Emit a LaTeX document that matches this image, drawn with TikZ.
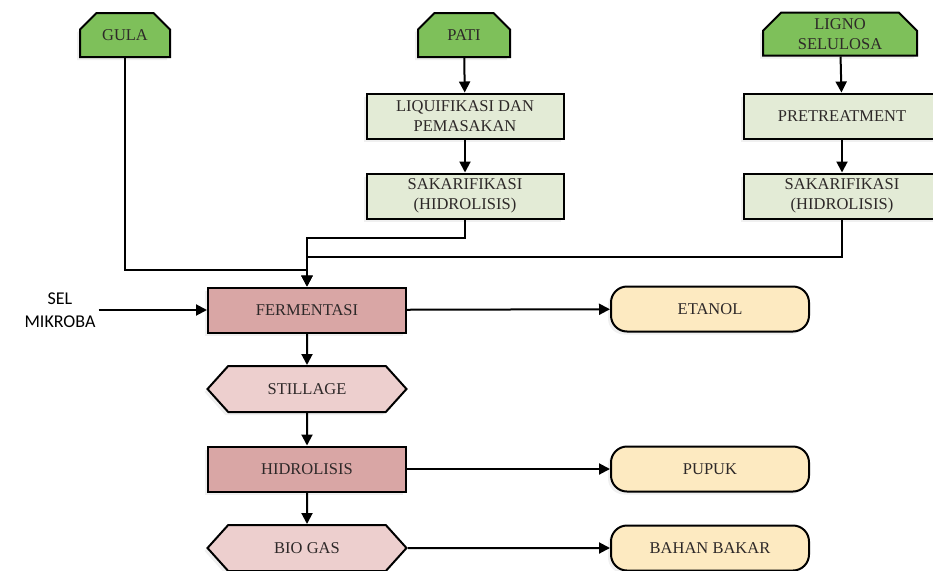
\documentclass[tikz,border=0pt]{standalone}
\usepackage{fontspec}
\setmainfont{Liberation Serif}
\newfontfamily\selfont{Carlito}
\usetikzlibrary{arrows.meta,shapes.misc,shapes.symbols,shadows}

\definecolor{bahan}{RGB}{126,192,90}
\definecolor{proses}{RGB}{227,235,214}
\definecolor{fermen}{RGB}{217,166,165}
\definecolor{sisa}{RGB}{237,207,206}
\definecolor{produk}{RGB}{253,234,193}
\definecolor{teks}{RGB}{45,40,40}

\tikzset{
    kotak/.style={draw=black, line width=2pt, text=teks, align=center,
        font=\fontsize{16.5}{19.5}\selectfont, inner sep=2pt,
        drop shadow={shadow xshift=-3pt, shadow yshift=-3pt, opacity=0.12}},
    sumber/.style={kotak, chamfered rectangle, fill=bahan,
        chamfered rectangle corners={north west, north east},
        chamfered rectangle sep=11pt, inner ysep=0pt},
    olah/.style={kotak, rectangle, fill=proses, minimum width=197pt, minimum height=45pt},
    reaktor/.style={kotak, rectangle, fill=fermen, minimum width=198pt, minimum height=45pt},
    limbah/.style={kotak, signal, signal to=west and east, signal pointer angle=96,
        fill=sisa, minimum width=199pt, minimum height=46pt},
    hasil/.style={kotak, rectangle, rounded corners=16pt, fill=produk,
        minimum width=198pt, minimum height=45pt},
    panah/.style={line width=2pt, -{Triangle[length=11pt,width=11pt]}},
    garis/.style={line width=2pt}
}

\begin{document}
\begin{tikzpicture}[x=1pt, y=-1pt]
        \useasboundingbox (0,0) rectangle (933,570);
        % bahan baku
        \node[sumber, minimum width=90pt, minimum height=44pt] (gula) at (125,35){GULA};
        \node[sumber, minimum width=92pt, minimum height=44pt] (pati) at (464,35){PATI};
        \node[sumber, minimum width=154pt, minimum height=43pt, inner ysep=-8pt] (ligno) at (840,34){LIGNO\\SELULOSA};

        % pengolahan
        \node[olah] (liqui) at (465,116){LIQUIFIKASI DAN\\PEMASAKAN};
        \node[olah] (sakar1) at (465,196){SAKARIFIKASI\\(HIDROLISIS)};
        \node[olah] (pretr) at (842,116){PRETREATMENT};
        \node[olah] (sakar2) at (842,196){SAKARIFIKASI\\(HIDROLISIS)};

        % fermentasi
        \node[reaktor] (ferm) at (307,310){FERMENTASI};
        \node[limbah] (still) at (307,389){STILLAGE};
        \node[reaktor] (hidro) at (307,469){HIDROLISIS};
        \node[limbah] (biogas) at (307,548){BIO GAS};
        \node[align=center, font=\selfont\fontsize{18}{23}\selectfont, inner sep=3pt] (sel) at (60,310){SEL\\MIKROBA};

        % produk
        \node[hasil] (etanol) at (710,309){ETANOL};
        \node[hasil] (pupuk) at (710,469){PUPUK};
        \node[hasil] (bakar) at (710,548){BAHAN BAKAR};

        % alur
        \draw[panah] (pati) -- (liqui);
        \draw[panah] (liqui) -- (sakar1);
        \draw[panah] (ligno) -- (pretr);
        \draw[panah] (pretr) -- (sakar2);
        \draw[panah] (gula.south) -- ++(0,212) -| (ferm.north);
        \draw[panah] (sakar1.south) -- ++(0,18) -| (ferm.north);
        \draw[panah] (sakar2.south) -- ++(0,37) -| (ferm.north);
        \draw[panah] (sel.east) -- (ferm.west);
        \draw[panah] (ferm) -- (etanol);
        \draw[panah] (ferm) -- (still);
        \draw[panah] (still) -- (hidro);
        \draw[panah] (hidro) -- (pupuk);
        \draw[panah] (hidro) -- (biogas);
        \draw[panah] (biogas) -- (bakar);
    \end{tikzpicture}
\end{document}
